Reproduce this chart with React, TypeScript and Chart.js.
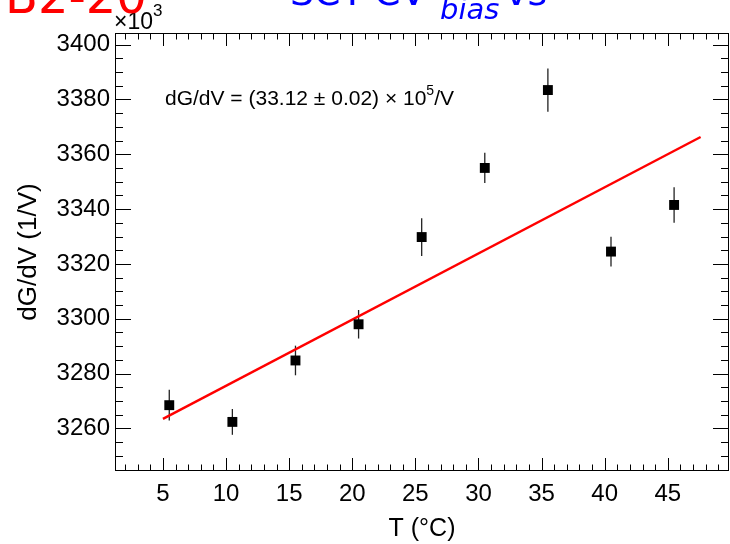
import React, { useEffect, useRef } from "react";
import { Chart, registerables } from "chart.js";

Chart.register(...registerables);

// Data (values in units of 10^3 1/V)
const temperatures = [5.5, 10.5, 15.5, 20.5, 25.5, 30.5, 35.5, 40.5, 45.5];
const dGdV = [3268.5, 3262.4, 3284.8, 3298.0, 3329.8, 3355.0, 3383.4, 3324.5, 3341.5];
const dGdVErr = [5.6, 4.7, 5.4, 5.2, 6.9, 5.5, 7.9, 5.4, 6.5];
const fitT = [5.0, 47.6];
const fitValues = [3263.5, 3366.3];

const xTickValues = [5, 10, 15, 20, 25, 30, 35, 40, 45];
const yTickValues = [3260, 3280, 3300, 3320, 3340, 3360, 3380, 3400];

const xMin = 1.2;
const xMax = 49.85;
const yMin = 3244.5;
const yMax = 3404.2;

const xTitle = "T (\u00B0C)";
const yTitle = "dG/dV (1/V)";
const fitText = "dG/dV = (33.12 \u00B1 0.02) \u00D7 10";
const fitTextSup = "5";
const fitTextEnd = "/V";
const titleRed = "B2-20";
const titleBlue = "SCT-CV";
const titleBlueSub = "bias";
const titleBlueEnd = "vs";

const FONT = "'Liberation Sans', Arial, Helvetica, sans-serif";

const errorBarPlugin = {
  id: "errorBars",
  beforeDatasetsDraw(chart: any) {
    const { ctx, scales } = chart;
    const xs = scales.x;
    const ys = scales.y;
    ctx.save();
    ctx.strokeStyle = "#222";
    ctx.lineWidth = 1.3;
    temperatures.forEach((t, i) => {
      const px = xs.getPixelForValue(t);
      const y1 = ys.getPixelForValue(dGdV[i] - dGdVErr[i]);
      const y2 = ys.getPixelForValue(dGdV[i] + dGdVErr[i]);
      ctx.beginPath();
      ctx.moveTo(px, y1);
      ctx.lineTo(px, y2);
      ctx.stroke();
    });
    ctx.restore();
  },
};

const framePlugin = {
  id: "rootFrame",
  afterDraw(chart: any) {
    const { ctx, chartArea, scales } = chart;
    const { left, right, top, bottom } = chartArea;
    const xs = scales.x;
    const ys = scales.y;
    ctx.save();
    ctx.strokeStyle = "#000";
    ctx.lineWidth = 1;
    ctx.strokeRect(left + 0.5, top + 0.5, right - left - 1, bottom - top - 1);
    ctx.beginPath();
    for (let v = Math.ceil(xMin); v <= xMax; v += 1) {
      const px = Math.round(xs.getPixelForValue(v)) + 0.5;
      const len = v % 5 === 0 ? 13 : 6.5;
      ctx.moveTo(px, bottom);
      ctx.lineTo(px, bottom - len);
      ctx.moveTo(px, top);
      ctx.lineTo(px, top + len);
    }
    for (let v = Math.ceil(yMin / 5) * 5; v <= yMax; v += 5) {
      const py = Math.round(ys.getPixelForValue(v)) + 0.5;
      const len = v % 20 === 0 ? 16 : 8;
      ctx.moveTo(left, py);
      ctx.lineTo(left + len, py);
      ctx.moveTo(right, py);
      ctx.lineTo(right - len, py);
    }
    ctx.stroke();

    // fit annotation
    ctx.fillStyle = "#000";
    ctx.textBaseline = "alphabetic";
    ctx.textAlign = "left";
    ctx.font = `21px ${FONT}`;
    const ax = 165;
    const ay = 105;
    ctx.fillText(fitText, ax, ay);
    const w1 = ctx.measureText(fitText).width;
    ctx.font = `14px ${FONT}`;
    ctx.fillText(fitTextSup, ax + w1, ay - 10);
    const w2 = ctx.measureText(fitTextSup).width;
    ctx.font = `21px ${FONT}`;
    ctx.fillText(fitTextEnd, ax + w1 + w2, ay);

    // x10^3 multiplier
    ctx.font = `23px ${FONT}`;
    ctx.fillText("\u00D710", 114, 29);
    const wm = ctx.measureText("\u00D710").width;
    ctx.font = `17px ${FONT}`;
    ctx.fillText("3", 114 + wm, 16);

    // title (cut off at top)
    ctx.font = `48px 'DejaVu Sans', sans-serif`;
    ctx.fillStyle = "#ff0000";
    ctx.fillText(titleRed, 5, 13);
    ctx.fillStyle = "#0000ff";
    ctx.font = `38px 'DejaVu Sans', sans-serif`;
    ctx.fillText(titleBlue, 290, 5);
    ctx.font = `italic 29px 'DejaVu Sans', sans-serif`;
    ctx.fillText(titleBlueSub, 440, 19);
    ctx.font = `38px 'DejaVu Sans', sans-serif`;
    ctx.fillText(titleBlueEnd, 505, 5);
    ctx.restore();
  },
};

export default function App() {
  const canvasRef = useRef<HTMLCanvasElement | null>(null);

  useEffect(() => {
    const canvas = canvasRef.current;
    if (!canvas) return;
    const chart = new Chart(canvas, {
      type: "scatter",
      data: {
        datasets: [
          {
            label: "data",
            data: temperatures.map((t, i) => ({ x: t, y: dGdV[i] })),
            backgroundColor: "#000",
            borderColor: "#000",
            borderWidth: 0,
            pointStyle: "rect",
            pointRadius: 7,
            pointHoverRadius: 7,
            showLine: false,
            order: 1,
          },
          {
            label: "fit",
            data: fitT.map((t, i) => ({ x: t, y: fitValues[i] })),
            borderColor: "#ff0000",
            backgroundColor: "#ff0000",
            borderWidth: 2.4,
            pointRadius: 0,
            pointHoverRadius: 0,
            showLine: true,
            order: 2,
          },
        ],
      },
      plugins: [errorBarPlugin, framePlugin],
      options: {
        animation: false,
        responsive: false,
        devicePixelRatio: 1,
        layout: { autoPadding: false, padding: { top: 33, right: 1, left: 0, bottom: 0 } },
        plugins: {
          legend: { display: false },
          tooltip: { enabled: false },
          title: { display: false },
        },
        scales: {
          x: {
            type: "linear",
            min: xMin,
            max: xMax,
            grid: { display: false, drawTicks: false },
            border: { display: false },
            afterBuildTicks(scale: any) {
              scale.ticks = xTickValues.map((v) => ({ value: v }));
            },
            ticks: {
              color: "#000",
              padding: 9,
              font: { family: FONT, size: 24 },
              callback: (v: any) => String(v),
            },
            title: {
              display: true,
              text: xTitle,
              color: "#000",
              font: { family: FONT, size: 25 },
              padding: { top: 0, bottom: 0 },
            },
            afterFit(scale: any) {
              scale.height = 73;
              scale.paddingLeft = 0;
              scale.paddingRight = 0;
            },
          },
          y: {
            type: "linear",
            min: yMin,
            max: yMax,
            grid: { display: false, drawTicks: false },
            border: { display: false },
            afterBuildTicks(scale: any) {
              scale.ticks = yTickValues.map((v) => ({ value: v }));
            },
            ticks: {
              color: "#000",
              padding: 5,
              font: { family: FONT, size: 24 },
              callback: (v: any) => String(v),
            },
            title: {
              display: true,
              text: yTitle,
              color: "#000",
              font: { family: FONT, size: 26 },
              padding: { top: 13, bottom: 0 },
            },
            afterFit(scale: any) {
              scale.width = 115;
              scale.paddingTop = 0;
              scale.paddingBottom = 0;
            },
          },
        },
      },
    });
    return () => chart.destroy();
  }, []);

  return (
    <div style={{ position: "absolute", left: 0, top: 0, width: 730, height: 544, background: "#fff" }}>
      <canvas ref={canvasRef} width={730} height={544} style={{ display: "block" }} />
    </div>
  );
}
